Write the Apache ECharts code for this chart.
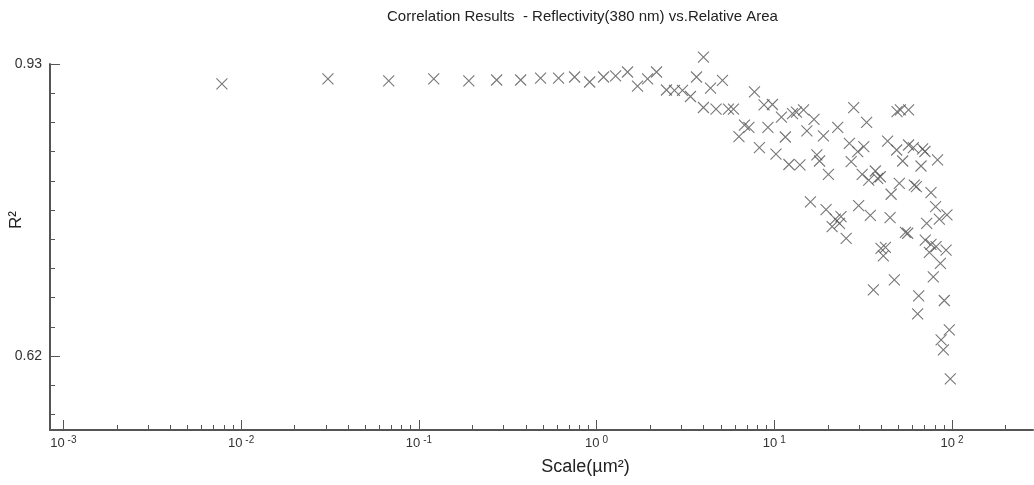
<!DOCTYPE html>
<html>
<head>
<meta charset="utf-8">
<script src="https://cdn.jsdelivr.net/npm/echarts@6/dist/echarts.min.js"></script>
<style>
  html, body { margin: 0; padding: 0; background: #fff; }
  #chart { width: 1034px; height: 485px; }
</style>
</head>
<body>
<div id="chart"></div>
<script>
// scale in µm²
const scaleValues = [
  0.0078, 0.0308, 0.0677, 0.1213, 0.191, 0.274, 0.374, 0.484, 0.611, 0.752,
  0.914, 1.094, 1.279, 1.493, 1.699, 1.936, 2.173, 2.472, 2.742, 3.041,
  3.373, 3.648, 3.99, 4.375, 5.105, 3.99, 4.699, 5.521, 5.888, 7.727,
  8.75, 9.75, 10.96, 12.65, 13.31, 14.59, 16.71, 6.79, 7.19, 6.32,
  9.2, 11.53, 15.24, 18.88, 8.24, 10.21, 12.08, 13.93, 17.34, 17.95,
  20.14, 27.93, 33.04, 48.98, 51.17, 56.89, 22.71, 26.42, 29.44, 31.84,
  43.36, 48.75, 56.89, 60.53, 68.23, 70.3, 52.72, 66.83, 82.8, 27.04,
  31.19, 33.96, 36.98, 38.11, 39.45, 50.47, 45.39, 61.24, 62.95, 76.03,
  15.96, 19.54, 22.03, 23.71, 21.13, 23.23, 25.35, 29.79, 34.67, 44.77,
  54.58, 56.23, 80.72, 71.94, 84.72, 93.54, 39.81, 42.17, 41.02, 70.63,
  76.03, 74.47, 81.28, 92.47, 85.9, 78.34, 47.32, 36.06, 64.86, 90.36,
  63.97, 96.4, 86.7, 89.3, 97.7
];
// R² values
const r2Values = [
  0.9088, 0.9141, 0.912, 0.9141, 0.912, 0.913, 0.913, 0.9151, 0.9151, 0.9162,
  0.9109, 0.9162, 0.9173, 0.9215, 0.9066, 0.9141, 0.9215, 0.9024, 0.9019, 0.9019,
  0.8955, 0.9162, 0.9374, 0.9045, 0.9125, 0.8838, 0.8822, 0.8822, 0.8822, 0.9003,
  0.8865, 0.887, 0.8737, 0.8774, 0.879, 0.8812, 0.8711, 0.8652, 0.8626, 0.853,
  0.8626, 0.8525, 0.8589, 0.8536, 0.8413, 0.8344, 0.8233, 0.8228, 0.8334, 0.827,
  0.8127, 0.8836, 0.8681, 0.8794, 0.8812, 0.8812, 0.8628, 0.8458, 0.8369, 0.8422,
  0.8482, 0.8387, 0.844, 0.8411, 0.8398, 0.8371, 0.827, 0.8217, 0.8281, 0.8263,
  0.8129, 0.8068, 0.8164, 0.8086, 0.8103, 0.8033, 0.7917, 0.8015, 0.7999, 0.7934,
  0.7835, 0.7755, 0.7654, 0.7679, 0.7573, 0.7609, 0.7449, 0.7796, 0.7692, 0.7668,
  0.7513, 0.7503, 0.7785, 0.7609, 0.7654, 0.7697, 0.7343, 0.7354, 0.7262, 0.7431,
  0.7384, 0.7301, 0.736, 0.7325, 0.7184, 0.7039, 0.7007, 0.6901, 0.6837, 0.6789,
  0.6646, 0.6476, 0.637, 0.6264, 0.5956
];
// axis ranges / ticks
const xDecades = [-3, -2, -1, 0, 1, 2];
const xRange = [-3.075, 2.455];   // log10 of scale
const yLabels = [0.62, 0.93];
const yStep = 0.031;
const yRange = [0.5414, 0.93];

const FONT = "'Liberation Sans', Arial, sans-serif";
const AXIS_COLOR = "#555";

// minor ticks at 2..9 x 10^n on the x axis
const xMinor = [];
xDecades.forEach((d) => {
  for (let k = 2; k <= 9; k++) {
    const v = d + Math.log10(k);
    if (v < xRange[1]) xMinor.push(v);
  }
});
const yMinor = [];
for (let k = -2; k <= 10; k++) {
  const v = +(yLabels[0] + k * yStep).toFixed(3);
  if (k !== 0 && k !== 10 && v > yRange[0]) yMinor.push(v);
}

const points = scaleValues.map((s, i) => [Math.log10(s), r2Values[i]]);

const chart = echarts.init(document.getElementById("chart"));
chart.setOption({
  animation: false,
  textStyle: { fontFamily: FONT },
  title: {
    text: "Correlation Results  - Reflectivity(380 nm) vs.Relative Area",
    left: 382,
    top: 4,
    textStyle: { fontSize: 15, fontWeight: "normal", color: "#222", fontFamily: FONT },
  },
  grid: { left: 50, right: 1, top: 64, bottom: 55, outerBoundsMode: "none", containLabel: false },
  xAxis: [
    {
      type: "value",
      position: "bottom",
      min: xRange[0],
      max: xRange[1],
      name: "Scale(µm²)",
      nameLocation: "middle",
      nameGap: 28,
      nameMoveOverlap: false,
      nameTextStyle: { fontSize: 18, color: "#222", padding: [0, 0, 0, 88] },
      splitLine: { show: false },
      axisLine: { onZero: false, lineStyle: { color: AXIS_COLOR, width: 2 } },
      axisTick: { inside: true, length: 10, customValues: xDecades, lineStyle: { color: AXIS_COLOR, width: 1 } },
      axisLabel: {
        customValues: xDecades,
        margin: 5,
        formatter: (v) => "{b|10}{s|" + v + "}",
        rich: {
          b: { fontSize: 13, color: "#333", fontFamily: FONT },
          s: { fontSize: 10, color: "#333", fontFamily: FONT, padding: [0, 0, 7, 3] },
        },
      },
    },
    {
      type: "value",
      position: "bottom",
      min: xRange[0],
      max: xRange[1],
      splitLine: { show: false },
      axisLine: { show: false, onZero: false },
      axisLabel: { show: false },
      axisTick: { inside: true, length: 5, customValues: xMinor, lineStyle: { color: AXIS_COLOR, width: 1 } },
    },
  ],
  yAxis: [
    {
      type: "value",
      position: "left",
      min: yRange[0],
      max: yRange[1],
      name: "R²",
      nameLocation: "middle",
      nameGap: 25,
      nameMoveOverlap: false,
      nameTextStyle: { fontSize: 17, color: "#222", padding: [0, 0, 0, 54] },
      splitLine: { show: false },
      axisLine: { onZero: false, lineStyle: { color: AXIS_COLOR, width: 2 } },
      axisTick: { inside: true, length: 10, customValues: yLabels, lineStyle: { color: AXIS_COLOR, width: 1 } },
      axisLabel: {
        customValues: yLabels,
        margin: 8,
        fontSize: 14,
        color: "#333",
        formatter: (v) => v.toFixed(2),
      },
    },
    {
      type: "value",
      position: "left",
      min: yRange[0],
      max: yRange[1],
      splitLine: { show: false },
      axisLine: { show: false, onZero: false },
      axisLabel: { show: false },
      axisTick: { inside: true, length: 5, customValues: yMinor, lineStyle: { color: AXIS_COLOR, width: 1 } },
    },
  ],
  series: [
    {
      type: "scatter",
      xAxisIndex: 0,
      yAxisIndex: 0,
      clip: false,
      symbol: "path://M0,0L10,10M10,0L0,10",
      symbolSize: 11,
      itemStyle: { color: "rgba(0,0,0,0)", borderColor: "#555", borderWidth: 1.1 },
      data: points,
    },
  ],
});
</script>
</body>
</html>
